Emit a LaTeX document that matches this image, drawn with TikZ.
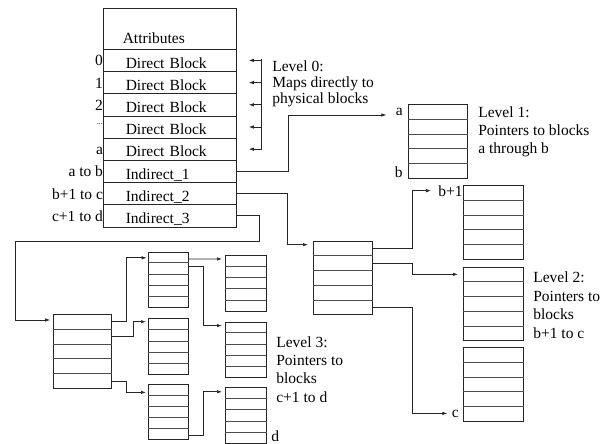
\documentclass[tikz,border=0pt]{standalone}
\usepackage{fontspec}
\setmainfont{Liberation Serif}
\usetikzlibrary{arrows.meta, positioning, calc}

\newcommand{\ptrblock}[5]{%
  \node[blk, minimum width=#4pt, minimum height=#5pt] (#1) at (#2,#3) {};
  \foreach \k in {1,...,4}
    \draw[sep] ($(#1.north west)!\k/5!(#1.south west)$) -- ($(#1.north east)!\k/5!(#1.south east)$);
}

\begin{document}
\begin{tikzpicture}[
    x=1pt, y=-1pt,
    line width=0.7pt,
    txt/.style={inner sep=0pt, align=left, font=\fontsize{15.5}{18}\selectfont},
    cell/.style={draw=black!85, outer sep=0pt, minimum width=133pt, minimum height=22.2pt,
                 text width=88pt, inner xsep=0pt, inner ysep=0pt, text height=15.5pt,
                 text depth=0pt, align=left, font=\fontsize{15.5}{18}\selectfont,
                 label distance=3pt},
    lbl/.style={anchor=base east, yshift=-5.5pt, inner sep=0pt, font=\fontsize{15.5}{18}\selectfont},
    blk/.style={draw=black!85, anchor=north west, inner sep=0pt},
    sep/.style={draw=black!70},
    ptr/.style={-{Latex[length=5pt,width=3.4pt]}, draw=black!85},
]
\useasboundingbox (0,0) rectangle (613,444);

% Inode table
\node[cell, anchor=north west, minimum height=41pt, text width=94pt, text height=29pt] (attr) at (103.3,8.3) {Attributes};
\node[cell, below=0pt of attr, label={[lbl]left:0}] (d0) {Direct Block};
\node[cell, below=0pt of d0, label={[lbl]left:1}] (d1) {Direct Block};
\node[cell, below=0pt of d1, label={[lbl]left:2}] (d2) {Direct Block};
\node[cell, below=0pt of d2, label={[lbl]left:{\fontsize{8}{8}\selectfont\raisebox{8.5pt}{...}}}] (d3) {Direct Block};
\node[cell, below=0pt of d3, label={[lbl]left:a}] (da) {Direct Block};
\node[cell, below=0pt of da, label={[lbl]left:a to b}] (ind1) {Indirect\_1};
\node[cell, below=0pt of ind1, label={[lbl]left:b+1 to c}] (ind2) {Indirect\_2};
\node[cell, below=0pt of ind2, label={[lbl]left:c+1 to d}] (ind3) {Indirect\_3};

% Level 0
\draw[draw=black!85] ($(d0.east)+(25,-1)$) -- ($(da.east)+(25,1)$);
\foreach \c in {d0,d1,d2,d3,da}
  \draw[ptr, shorten >=12.5pt] ($(\c.east)+(25,0)$) -- (\c.east);
\node[txt, anchor=north west, font=\fontsize{15.5}{16}\selectfont] (lvl0) at (272,60.5) {Level 0:\\Maps directly to\\physical blocks};

% Level 1
\ptrblock{l1_blk}{408}{104}{59}{74}
\node[txt, anchor=base east] (la) at (403,115) {a};
\node[txt, anchor=base east] (lb) at (403,177) {b};
\node[txt, anchor=north west] (lvl1) at (478,106) {Level 1:\\Pointers to blocks\\a through b};
\draw[ptr, shorten >=9pt] (ind1.east) -- ++(52,0) |- (la.base west);

% Level 2
\ptrblock{l2_root}{313}{241}{59}{73}
\ptrblock{l2_a}{463}{185}{60}{74}
\ptrblock{l2_b}{463}{267}{60}{73}
\ptrblock{l2_c}{463}{347}{60}{74}
\node[txt, anchor=base east] (lbb) at (463,196) {b+1};
\node[txt, anchor=base east] (lc) at (459,417) {c};
\node[txt, anchor=north west, font=\fontsize{15.5}{18.5}\selectfont] (lvl2) at (533,271.7) {Level 2:\\Pointers to\\blocks\\b+1 to c};
\draw[ptr, shorten >=5pt] (ind2.east) -- ++(51,0) |- ($(l2_root.north west)!0.05!(l2_root.south west)$);
\draw[ptr, shorten >=7pt] ($(l2_root.north east)!0.1!(l2_root.south east)$) -- ++(40,0) |- (lbb);
\draw[ptr, shorten >=5pt] ($(l2_root.north east)!0.3!(l2_root.south east)$) -- ++(40,0) |- ($(l2_b.north west)!0.1!(l2_b.south west)$);
\draw[ptr, shorten >=4pt] ($(l2_root.north east)!0.9!(l2_root.south east)$) -- ++(40,0) |- (lc);

% Level 3
\ptrblock{l3_root}{52.7}{314}{58.3}{74}
\ptrblock{l3_a}{147.7}{251.7}{40.5}{55}
\ptrblock{l3_b}{148}{318.3}{40}{55.7}
\ptrblock{l3_c}{148}{384}{40}{55}
\ptrblock{l3_aa}{225}{255}{40.7}{55.7}
\ptrblock{l3_ab}{225}{321.7}{40.7}{55}
\ptrblock{l3_cc}{225}{387.3}{41}{55.4}
\node[txt, anchor=base west] (ld) at (271,441.5) {d};
\node[txt, anchor=north west, font=\fontsize{15.5}{18.3}\selectfont] (lvl3) at (276,336) {Level 3:\\Pointers to\\blocks\\c+1 to d};
\draw[ptr, shorten >=2.5pt] (ind3.east) -- ++(23,0) -- ++(0,25.2) -- ++(-243.6,0) |- ($(l3_root.north west)!0.08!(l3_root.south west)$);
\draw[ptr, shorten >=1pt] ($(l3_root.north east)!0.1!(l3_root.south east)$) -- ++(15,0) |- ($(l3_a.north west)!0.11!(l3_a.south west)$);
\draw[ptr, shorten >=2pt] ($(l3_root.north east)!0.3!(l3_root.south east)$) -- ++(22,0) |- ($(l3_b.north west)!0.06!(l3_b.south west)$);
\draw[ptr, shorten >=2pt] ($(l3_root.north east)!0.9!(l3_root.south east)$) -- ++(15,0) |- ($(l3_c.north west)!0.15!(l3_c.south west)$);
\draw[ptr, shorten >=3pt] ($(l3_a.north east)!0.13!(l3_a.south east)$) -- ($(l3_aa.north west)!0.07!(l3_aa.south west)$);
\draw[ptr, shorten >=3pt] ($(l3_a.north east)!0.27!(l3_a.south east)$) -- ++(14,0) |- ($(l3_ab.north west)!0.07!(l3_ab.south west)$);
\draw[ptr, shorten >=3pt] ($(l3_c.north east)!0.93!(l3_c.south east)$) -- ++(15,0) |- ($(l3_cc.north west)!0.08!(l3_cc.south west)$);

\end{tikzpicture}
\end{document}
